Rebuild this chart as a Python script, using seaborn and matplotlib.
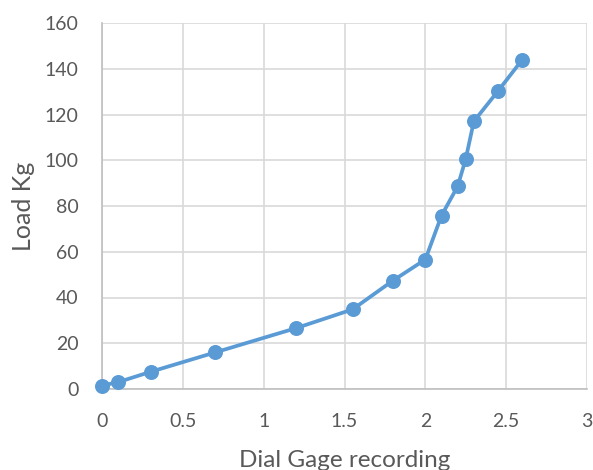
import matplotlib
matplotlib.use("Agg")
import matplotlib.pyplot as plt
import seaborn as sns
import pandas as pd

dial = [0, 0.1, 0.3, 0.7, 1.2, 1.55, 1.8, 2.0, 2.1, 2.2, 2.25, 2.3, 2.45, 2.6]
load = [1.5, 3, 7.5, 16, 26.6, 34.8, 47.4, 56.6, 75.8, 88.6, 100.6, 117, 130.3, 144]
x_ticks = [0, 0.5, 1, 1.5, 2, 2.5, 3]
x_tick_labels = ["0", "0.5", "1", "1.5", "2", "2.5", "3"]
y_ticks = [0, 20, 40, 60, 80, 100, 120, 140, 160]

sns.set_theme(style="white")
plt.rcParams['font.family'] = ['Lato', 'DejaVu Sans']

df = pd.DataFrame({"Dial Gage recording": dial, "Load Kg": load})

fig = plt.figure(figsize=(5.93, 4.70), dpi=100)
ax = fig.add_axes([102/593, 81/470, 485/593, 366/470])

blue = "#5B9BD5"
sns.lineplot(data=df, x="Dial Gage recording", y="Load Kg", ax=ax, sort=False,
             color=blue, linewidth=2.7, marker="o", markersize=10.8,
             markeredgewidth=0, markerfacecolor=blue, zorder=3, clip_on=False)

ax.set_xlim(0, 3)
ax.set_ylim(0, 160)
ax.set_xticks(x_ticks)
ax.set_xticklabels(x_tick_labels)
ax.set_yticks(y_ticks)
ax.grid(True, color="#D9D9D9", linewidth=1.2)
ax.set_axisbelow(True)
for s in ["top", "right"]:
    ax.spines[s].set_visible(False)
for s in ["left", "bottom"]:
    ax.spines[s].set_color("#BFBFBF")
    ax.spines[s].set_linewidth(1.2)

grey = "#595959"
ax.tick_params(axis="both", colors=grey, labelsize=14, length=0)
ax.tick_params(axis="x", pad=17)
ax.tick_params(axis="y", pad=17)
ax.set_xlabel("Dial Gage recording", fontsize=17.5, color=grey)
ax.set_ylabel("Load Kg", fontsize=18, color=grey)
ax.xaxis.set_label_coords(0.5, -0.167)
ax.yaxis.set_label_coords(-0.138, 0.5)

fig.savefig("out.png", dpi=100)
